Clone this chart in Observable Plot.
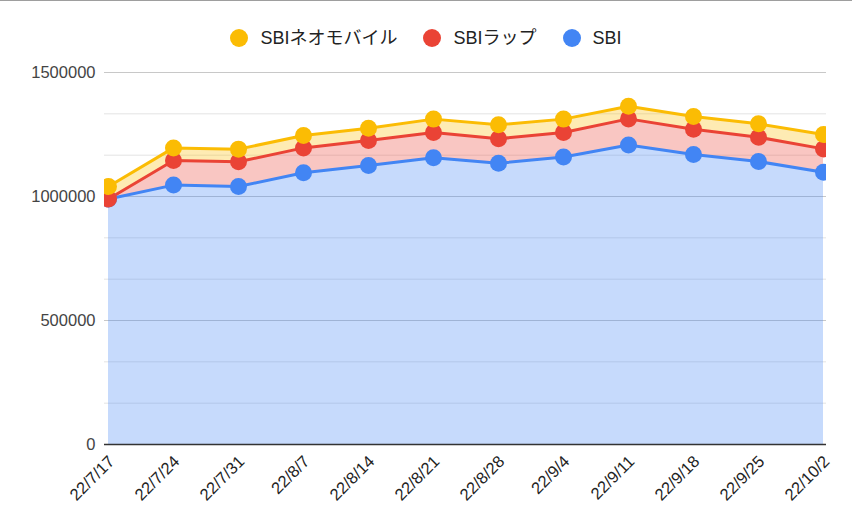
<!DOCTYPE html>
<html>
<head>
<meta charset="utf-8">
<script src="https://cdn.jsdelivr.net/npm/d3@7"></script>
<script src="https://cdn.jsdelivr.net/npm/@observablehq/plot@0.6"></script>
<style>
  html, body { margin: 0; padding: 0; background: #fff; }
  body { width: 852px; height: 526px; overflow: hidden; position: relative;
         font-family: Arial, "Liberation Sans", "Noto Sans CJK JP", sans-serif; }
  #topline { position: absolute; left: 0; top: 0; width: 852px; height: 1px; background: #9e9e9e; }
  #legend { height: 56px; box-sizing: border-box; padding-top: 28px; display: flex;
            justify-content: center; align-items: flex-start; }
  .item { display: flex; align-items: center; height: 20px; margin: 0 13px; }
  .sw { width: 18px; height: 18px; border-radius: 50%; margin-right: 12px; }
  .lab { font-size: 18px; color: #222; line-height: 20px; white-space: nowrap; }
  #chart svg { display: block; max-width: none !important; }
</style>
</head>
<body>
<div id="topline"></div>
<div id="legend"></div>
<div id="chart"></div>
<script>
const dates = ["22/7/17", "22/7/24", "22/7/31", "22/8/7", "22/8/14", "22/8/21", "22/8/28", "22/9/4", "22/9/11", "22/9/18", "22/9/25", "22/10/2"];
const sbi  = [990000, 1046000, 1040000, 1096000, 1125000, 1156000, 1134000, 1159000, 1208000, 1169000, 1141000, 1098000];
const wrap = [0, 99000, 100000, 100000, 101000, 102000, 99000, 99000, 105000, 102000, 98000, 94000];
const neo  = [50000, 51000, 51000, 50000, 49000, 54000, 56000, 54000, 51000, 52000, 54000, 58000];
const seriesNames = ["SBI", "SBIラップ", "SBIネオモバイル"];
const seriesColors = ["#4285f4", "#ea4335", "#fbbc04"];
const legendOrder = ["SBIネオモバイル", "SBIラップ", "SBI"];
const yTicks = [0, 500000, 1000000, 1500000];
const majorGrid = [500000, 1000000, 1500000];
const minorGrid = [166667, 333333, 666667, 833333, 1166667, 1333333];

const values = [sbi, wrap, neo];
const data = dates.flatMap((d, i) => seriesNames.map((s, k) => ({date: d, series: s, value: values[k][i]})));

// legend
const legend = document.getElementById("legend");
legendOrder.forEach(name => {
  const item = document.createElement("div");
  item.className = "item";
  const sw = document.createElement("span");
  sw.className = "sw";
  sw.style.background = seriesColors[seriesNames.indexOf(name)];
  const lab = document.createElement("span");
  lab.className = "lab";
  lab.textContent = name;
  item.appendChild(sw); item.appendChild(lab);
  legend.appendChild(item);
});

const chart = Plot.plot({
  width: 852,
  height: 470,
  marginTop: 16,
  marginBottom: 82,
  marginLeft: 104,
  marginRight: 26,
  style: {fontFamily: 'Arial, "Liberation Sans", "Noto Sans CJK JP", sans-serif', background: "#fff"},
  x: {type: "point", domain: dates, padding: 0, axis: null},
  y: {domain: [0, 1500000], axis: null},
  color: {domain: seriesNames, range: seriesColors},
  marks: [
    Plot.ruleY(minorGrid, {stroke: "#e3e3e3", strokeWidth: 1}),
    Plot.ruleY(majorGrid, {stroke: "#c8c8c8", strokeWidth: 1}),
    Plot.areaY(data, {x: "date", y: "value", z: "series", fill: "series", fillOpacity: 0.3, order: seriesNames}),
    Plot.ruleY([0], {stroke: "#333", strokeWidth: 1.5}),
    Plot.lineY(data, Plot.stackY2({x: "date", y: "value", z: "series", stroke: "series", strokeWidth: 3, order: seriesNames, clip: "frame"})),
    Plot.dot(data, Plot.stackY2({x: "date", y: "value", z: "series", fill: "series", r: 8.5, order: seriesNames, clip: "frame"})),
    Plot.axisY(yTicks, {tickSize: 0, tickPadding: 9, fontSize: 16.5, fill: "#444", label: null, tickFormat: d => String(d)}),
    Plot.text(dates, {x: d => d, frameAnchor: "bottom", dx: 7, dy: 18, rotate: -45, textAnchor: "end", lineAnchor: "bottom", fontSize: 16.5, fill: "#222"})
  ]
});
document.getElementById("chart").appendChild(chart);
</script>
</body>
</html>
